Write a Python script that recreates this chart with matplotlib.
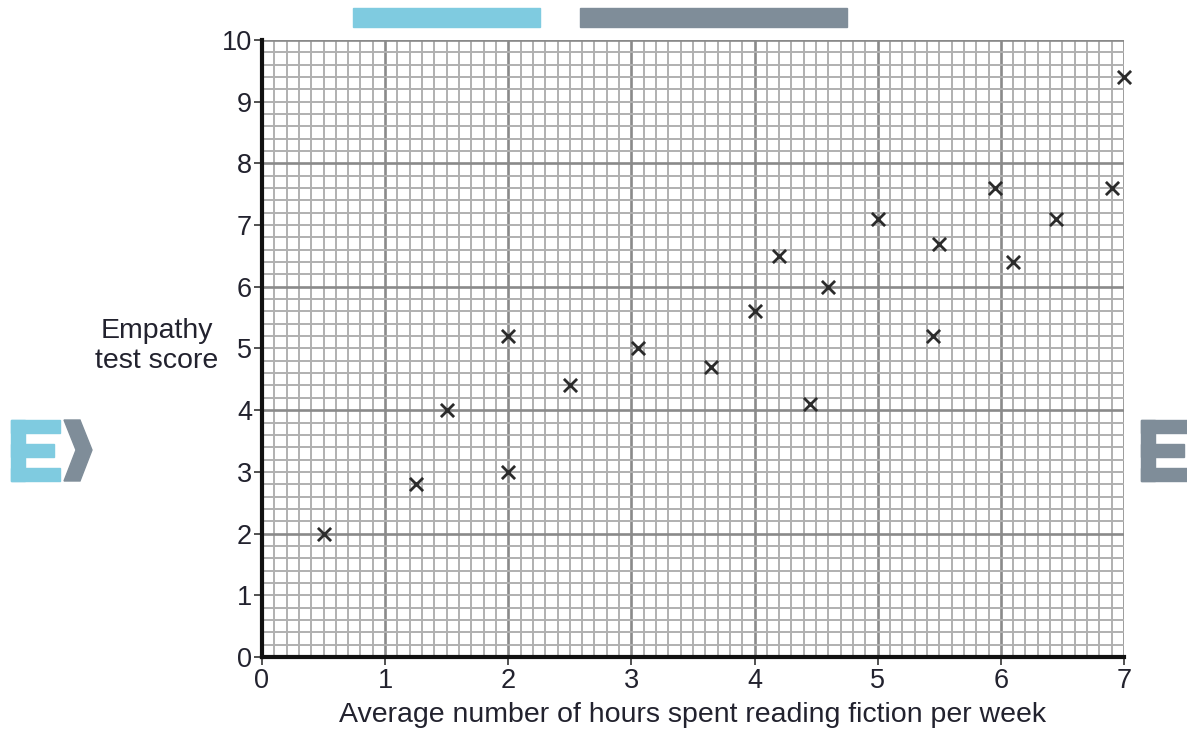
import numpy as np
import matplotlib.pyplot as plt
from matplotlib.patches import Rectangle, Polygon

# hours of fiction reading per week vs empathy score
hours = [0.5, 1.25, 1.5, 2.0, 2.0, 2.5, 3.05, 3.65, 4.0, 4.2,
         4.45, 4.6, 5.0, 5.45, 5.5, 5.95, 6.1, 6.45, 6.9, 7.0]
score = [2.0, 2.8, 4.0, 5.2, 3.0, 4.4, 5.0, 4.7, 5.6, 6.5,
         4.1, 6.0, 7.1, 5.2, 6.7, 7.6, 6.4, 7.1, 7.6, 9.4]

x_ticks = list(range(0, 8))
y_ticks = list(range(0, 11))

plt.rcParams['font.family'] = ['Liberation Sans', 'DejaVu Sans']
text_col = '#22222e'

W, H = 1187, 729
fig = plt.figure(figsize=(W / 100, H / 100), dpi=100)
ax = fig.add_axes([0.2207, 0.0988, 0.7262, 0.8464])

# graph paper: fine lines every 0.1 h / 0.2 points, heavier every 1 h / 2 points
for xv in np.arange(0, 7.001, 0.1):
    major = abs(xv - round(xv)) < 1e-6
    ax.axvline(xv, color='#8a8a8a' if major else '#b0b0b0',
               lw=1.9 if major else 1.4, zorder=1)
for yv in np.arange(0, 10.001, 0.2):
    major = abs(yv / 2 - round(yv / 2)) < 1e-6
    ax.axhline(yv, color='#8a8a8a' if major else '#b0b0b0',
               lw=1.9 if major else 1.4, zorder=1)

ax.scatter(hours, score, marker='x', s=90, color='#2b2b2b',
           linewidths=2.0, zorder=5, clip_on=False)

ax.set_xlim(0, 7)
ax.set_ylim(0, 10)
ax.set_xticks(x_ticks)
ax.set_yticks(y_ticks)
ax.tick_params(axis='both', length=6, width=1.2, color='#333333',
               labelsize=19.5, labelcolor=text_col)
ax.tick_params(axis='x', pad=2)
ax.tick_params(axis='y', pad=1)

for side in ['top', 'right']:
    ax.spines[side].set_visible(False)
for side in ['left', 'bottom']:
    ax.spines[side].set_linewidth(3)
    ax.spines[side].set_color('#111111')
    ax.spines[side].set_zorder(6)

ax.set_xlabel('Average number of hours spent reading fiction per week',
              fontsize=20.5, color=text_col, labelpad=6)
fig.text(0.132, 0.525, 'Empathy\ntest score', ha='center', va='center',
         fontsize=20.5, color=text_col, linespacing=1.2)

# watermark pieces at the edges
blue = '#7fcbe0'
grey = '#7f8d99'


def px_rect(x0, y0, x1, y1, col):
    fig.patches.append(Rectangle((x0 / W, 1 - y1 / H), (x1 - x0) / W,
                                 (y1 - y0) / H, transform=fig.transFigure,
                                 color=col, zorder=0))


def letter_e(x0, y0, x1, y1, col):
    t = 13
    px_rect(x0, y0, x0 + 14, y1, col)
    px_rect(x0, y0, x1, y0 + t, col)
    px_rect(x0, (y0 + y1) / 2 - t / 2, x1 - 6, (y0 + y1) / 2 + t / 2, col)
    px_rect(x0, y1 - t, x1, y1, col)


px_rect(353, 8, 540, 27, blue)
px_rect(580, 8, 847, 27, grey)
letter_e(11, 420, 60, 481, blue)
letter_e(1141, 420, 1190, 481, grey)
chev = [(64, 420), (80, 420), (92, 450), (80, 481), (64, 481), (76, 450)]
fig.patches.append(Polygon([(x / W, 1 - y / H) for x, y in chev],
                           closed=True, transform=fig.transFigure,
                           color=grey, zorder=0))

fig.savefig('out.png', dpi=100)
